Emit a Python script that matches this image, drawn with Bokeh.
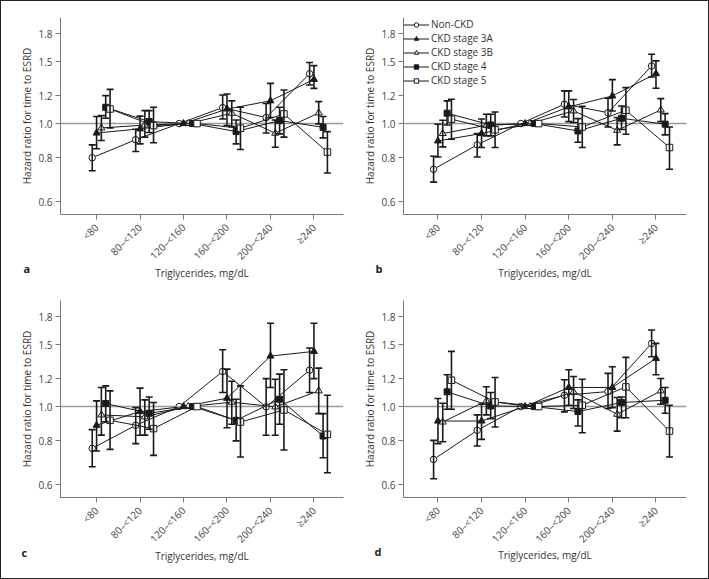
import math
from bokeh.plotting import figure
from bokeh.layouts import column, row
from bokeh.models import (ColumnDataSource, FixedTicker, Span, Whisker, TeeHead,
                          Legend, LegendItem, Title, Range1d)
from bokeh.embed import file_html
from bokeh.resources import INLINE

categories = ["<80", "80–<120", "120–<160", "160–<200", "200–<240", "≥240"]
series_names = ["Non-CKD", "CKD stage 3A", "CKD stage 3B", "CKD stage 4", "CKD stage 5"]
y_ticks = [0.6, 0.8, 1.0, 1.2, 1.5, 1.8]
y_tick_labels = ["0.6", "0.8", "1.0", "1.2", "1.5", "1.8"]

# rows: Non-CKD, 3A, 3B, 4, 5 ; columns: categories
a_hr = [[0.80, 0.90, 1.0, 1.11, 1.04, 1.385],
        [0.94, 0.966, 1.0, 1.10, 1.16, 1.335],
        [0.972, 0.99, 1.0, 1.07, 0.939, 1.072],
        [1.112, 1.013, 1.0, 0.949, 1.02, 0.976],
        [1.10, 0.987, 1.0, 0.97, 1.065, 0.83]]
a_lo = [[0.735, 0.833, 1.0, 1.03, 0.94, 1.287],
        [0.848, 0.876, 1.0, 0.987, 1.04, 1.259],
        [0.895, 0.915, 1.0, 0.98, 0.857, 0.998],
        [1.035, 0.943, 1.0, 0.876, 0.935, 0.911],
        [0.972, 0.882, 1.0, 0.844, 0.915, 0.724]]
a_hi = [[0.87, 0.964, 1.0, 1.205, 1.14, 1.49],
        [1.047, 1.05, 1.0, 1.213, 1.30, 1.46],
        [1.053, 1.088, 1.0, 1.16, 1.024, 1.154],
        [1.20, 1.088, 1.0, 1.024, 1.112, 1.047],
        [1.25, 1.112, 1.0, 1.112, 1.245, 0.949]]

b_hr = [[0.742, 0.87, 1.0, 1.135, 1.074, 1.457],
        [0.893, 0.937, 1.0, 1.115, 1.198, 1.386],
        [0.937, 0.989, 1.0, 1.086, 0.957, 1.093],
        [1.07, 0.991, 1.0, 0.953, 1.035, 0.996],
        [1.029, 0.96, 1.0, 0.978, 1.091, 0.855]]
b_lo = [[0.682, 0.804, 1.0, 1.044, 0.978, 1.356],
        [0.804, 0.855, 1.0, 1.013, 1.086, 1.26],
        [0.859, 0.923, 1.0, 1.007, 0.87, 1.013],
        [0.991, 0.923, 1.0, 0.885, 0.962, 0.929],
        [0.903, 0.855, 1.0, 0.855, 0.933, 0.742]]
b_hi = [[0.808, 0.937, 1.0, 1.238, 1.18, 1.573],
        [0.996, 1.03, 1.0, 1.238, 1.333, 1.506],
        [1.022, 1.063, 1.0, 1.17, 1.04, 1.177],
        [1.16, 1.063, 1.0, 1.033, 1.122, 1.067],
        [1.172, 1.079, 1.0, 1.12, 1.265, 0.978]]

c_hr = [[0.761, 0.885, 1.0, 1.258, 0.998, 1.269],
        [0.885, 0.968, 1.0, 1.056, 1.391, 1.434],
        [0.947, 0.935, 1.0, 1.029, 0.998, 1.108],
        [1.02, 0.957, 1.0, 0.914, 1.049, 0.825],
        [0.914, 0.866, 1.0, 0.904, 0.978, 0.834]]
c_lo = [[0.675, 0.785, 1.0, 1.096, 0.829, 1.096],
        [0.748, 0.829, 1.0, 0.871, 1.133, 1.2],
        [0.83, 0.83, 1.0, 0.891, 0.829, 0.955],
        [0.906, 0.862, 1.0, 0.799, 0.891, 0.716],
        [0.756, 0.727, 1.0, 0.719, 0.753, 0.649]]
c_hi = [[0.86, 0.993, 1.0, 1.45, 1.20, 1.466],
        [1.038, 1.128, 1.0, 1.277, 1.723, 1.723],
        [1.133, 1.045, 1.0, 1.18, 1.196, 1.286],
        [1.145, 1.065, 1.0, 1.049, 1.236, 0.955],
        [1.108, 1.027, 1.0, 1.145, 1.272, 1.077]]

d_hr = [[0.708, 0.856, 1.0, 1.077, 1.103, 1.511],
        [0.91, 0.91, 1.0, 1.133, 1.133, 1.37],
        [0.904, 1.038, 1.0, 1.101, 0.951, 1.108],
        [1.101, 1.004, 1.0, 0.968, 1.027, 1.042],
        [1.188, 1.031, 1.0, 1.009, 1.137, 0.852]]
d_lo = [[0.624, 0.773, 1.0, 0.966, 0.987, 1.385],
        [0.785, 0.807, 1.0, 1.009, 0.993, 1.231],
        [0.795, 0.947, 1.0, 0.987, 0.852, 1.015],
        [0.983, 0.924, 1.0, 0.881, 0.93, 0.957],
        [0.983, 0.875, 1.0, 0.843, 0.93, 0.719]]
d_hi = [[0.802, 0.947, 1.0, 1.191, 1.242, 1.649],
        [1.054, 1.015, 1.0, 1.272, 1.297, 1.511],
        [1.022, 1.138, 1.0, 1.217, 1.061, 1.201],
        [1.231, 1.096, 1.0, 1.045, 1.065, 1.133],
        [1.434, 1.209, 1.0, 1.196, 1.379, 1.009]]

offsets = [-0.1, 0.0, 0.11, 0.21, 0.31]
markers = ["circle", "triangle", "triangle", "square", "square"]
fills = ["white", "#1a1a1a", "white", "#1a1a1a", "white"]
msizes = [6.5, 7, 7, 6, 6.5]

INK = "#1a1a1a"
AXIS = "#777777"
FONT = "Open Sans"


def make_panel(hr, lo, hi, letter, letter_offset, letter_standoff, xr, w, h, bl, br, bt, bb,
               xlab_standoff, legend=False):
    p = figure(width=w, height=h, y_axis_type="log",
               x_range=Range1d(*xr), y_range=Range1d(0.552, 2.0),
               output_backend="svg", toolbar_location=None,
               min_border_left=bl, min_border_right=br, min_border_top=bt, min_border_bottom=bb)
    p.outline_line_color = None
    p.xgrid.visible = False
    p.ygrid.visible = False
    p.background_fill_color = "white"
    p.border_fill_color = "white"

    p.add_layout(Span(location=1.0, dimension="width", line_color="#9a9a9a", line_width=1.5, level="underlay"))

    items = []
    for i in range(5):
        xs = [k + offsets[i] for k in range(len(categories))]
        src = ColumnDataSource(dict(x=xs, hr=hr[i], lo=lo[i], hi=hi[i]))
        ln = p.line("x", "hr", source=src, line_color=INK, line_width=1)
        keep = [k for k in range(len(categories)) if lo[i][k] != hi[i][k]]
        esrc = ColumnDataSource(dict(x=[xs[k] for k in keep], lo=[lo[i][k] for k in keep],
                                     hi=[hi[i][k] for k in keep]))
        wk = Whisker(source=esrc, base="x", lower="lo", upper="hi", dimension="height",
                     line_color=INK, line_width=1.6, level="glyph",
                     upper_head=TeeHead(size=7, line_color=INK, line_width=1.6),
                     lower_head=TeeHead(size=7, line_color=INK, line_width=1.6))
        p.add_layout(wk)
        sc = p.scatter("x", "hr", source=src, marker=markers[i], size=msizes[i],
                       fill_color=fills[i], line_color=INK, line_width=1)
        items.append(LegendItem(label=series_names[i], renderers=[ln, sc]))

    p.xaxis.ticker = FixedTicker(ticks=list(range(len(categories))))
    p.xaxis.major_label_overrides = {k: c for k, c in enumerate(categories)}
    p.xaxis.major_label_orientation = math.pi / 4
    p.yaxis.ticker = FixedTicker(ticks=y_ticks)
    p.yaxis.major_label_overrides = {t: s for t, s in zip(y_ticks, y_tick_labels)}
    for ax in (p.xaxis, p.yaxis):
        ax.axis_line_color = AXIS
        ax.axis_line_width = 1
        ax.major_tick_line_color = AXIS
        ax.major_tick_out = 5
        ax.major_tick_in = 0
        ax.minor_tick_line_color = None
        ax.major_label_text_font = FONT
        ax.major_label_text_font_size = "10px"
        ax.major_label_text_color = "#444444"
        ax.axis_label_text_font = FONT
        ax.axis_label_text_font_size = "10px"
        ax.axis_label_text_font_style = "normal"
        ax.axis_label_text_color = "#333333"
    p.xaxis.axis_label = "Triglycerides, mg/dL"
    p.xaxis.axis_label_standoff = xlab_standoff
    p.xaxis.major_label_standoff = 6
    p.yaxis.axis_label = "Hazard ratio for time to ESRD"
    p.yaxis.major_label_standoff = 3
    p.yaxis.axis_label_standoff = 1

    # panel letter, pulled up onto the axis-title line
    p.add_layout(Title(text=letter, align="left", vertical_align="top", offset=letter_offset,
                       standoff=letter_standoff, text_font=FONT, text_font_size="11px",
                       text_font_style="bold", text_color="#222222"), "below")

    if legend:
        lg = Legend(items=items, location="top_left", margin=0, padding=0,
                    background_fill_alpha=0, border_line_alpha=0,
                    label_text_font=FONT, label_text_font_size="10px", label_text_color="#333333",
                    glyph_width=26, glyph_height=11, label_height=11, spacing=0, label_standoff=2)
        p.add_layout(lg)
    return p


xr_left = (-0.83, 5.68)
xr_right = (-0.79, 5.70)

pa = make_panel(a_hr, a_lo, a_hi, "a", -37, -46, xr_left, 350, 289, 59, 8, 16, 76, -4)
pb = make_panel(b_hr, b_lo, b_hi, "b", -28, -46, xr_right, 357, 289, 52, 22, 16, 76, -4, legend=True)
pc = make_panel(c_hr, c_lo, c_hi, "c", -39, -43, xr_left, 350, 288, 59, 8, 10, 81, -4)
pd = make_panel(d_hr, d_lo, d_hi, "d", -29, -44, xr_right, 357, 288, 52, 22, 10, 81, -5)

layout = column(row(pa, pb), row(pc, pd), styles={"border": "1px solid #222222"})

open("out.html", "w").write(file_html(layout, INLINE))
